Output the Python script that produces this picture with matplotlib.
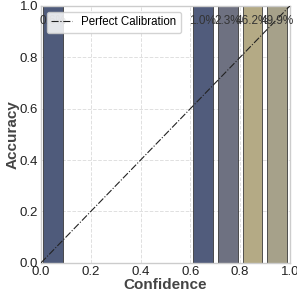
import matplotlib
matplotlib.use("Agg")
import matplotlib.pyplot as plt
import numpy as np

bin_centers = [0.05, 0.65, 0.75, 0.85, 0.95]
accuracy = [1.0, 1.0, 1.0, 1.0, 1.0]
percent_labels = ["0.6%", "1.0%", "2.3%", "46.2%", "49.9%"]
bar_colors = ["#4f5b7b", "#515c7c", "#6e7181", "#b4aa85", "#a6a18a"]

plt.rcParams['font.family'] = ['Liberation Sans', 'DejaVu Sans']

fig = plt.figure(figsize=(2.97, 2.97), dpi=100)
ax = fig.add_axes([0.138, 0.115, 0.838, 0.865])
ax.set_axisbelow(True)
ax.grid(True, linestyle='--', color='#e0e0e0', linewidth=0.7)
for s in ax.spines.values():
    s.set_color('#cccccc')
    s.set_linewidth(1.0)

ax.bar(bin_centers, accuracy, width=0.08, color=bar_colors, edgecolor='#3a3a3a', linewidth=0.6, zorder=2)
for x, lab in zip(bin_centers, percent_labels):
    ax.text(x, 0.94, lab, ha='center', va='center', fontsize=8.5, color='#333333', zorder=3)

ax.plot([0, 1], [0, 1], linestyle='-.', color='#222222', linewidth=0.8, label='Perfect Calibration', zorder=4)
ax.set_xlim(0, 1)
ax.set_ylim(0, 1)
ax.set_xticks([0, 0.2, 0.4, 0.6, 0.8, 1.0])
ax.set_yticks([0, 0.2, 0.4, 0.6, 0.8, 1.0])
ax.tick_params(labelsize=9.5, colors='#222222', length=0, pad=2)
ax.set_xlabel('Confidence', fontsize=11, fontweight='bold', color='#444444', labelpad=0)
ax.set_ylabel('Accuracy', fontsize=11, fontweight='bold', color='#444444', labelpad=0)
leg = ax.legend(loc='upper left', fontsize=8.3, frameon=True, framealpha=0.85, edgecolor='#cccccc',
                borderpad=0.4, handlelength=1.8)
leg.set_zorder(5)
fig.savefig('out.png', dpi=100)
